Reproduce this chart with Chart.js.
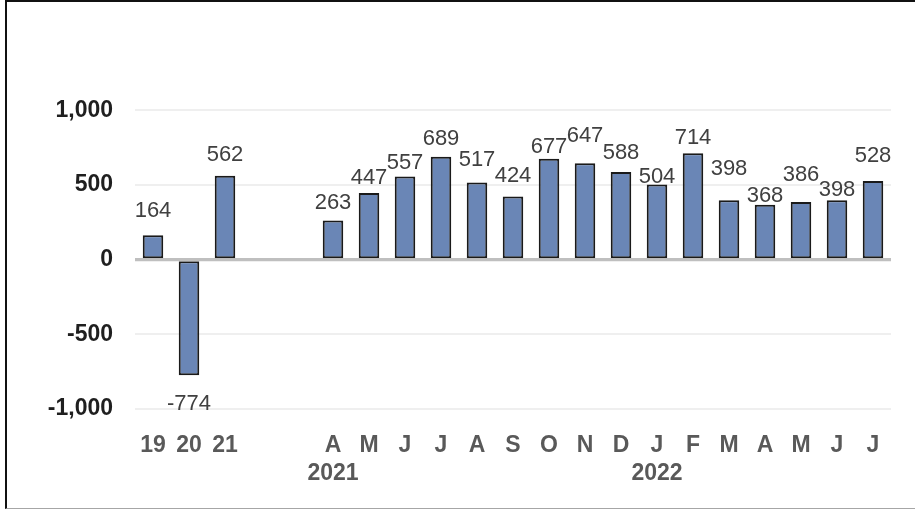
<!DOCTYPE html>
<html>
<head>
<meta charset="utf-8">
<script src="https://cdn.jsdelivr.net/npm/chart.js@4"></script>
<style>
  html, body { margin: 0; padding: 0; background: #fff; }
  #wrap { position: relative; width: 915px; height: 510px; }
  #frame {
    position: absolute; left: 5px; top: 0; width: 910px; height: 509px;
    border-top: 2px solid #111; border-left: 2px solid #111; border-bottom: 1px solid #a6a6a6;
    box-sizing: border-box;
  }
  #myChart { position: absolute; left: 0; top: 0; }
</style>
</head>
<body>
<div id="wrap">
  <div id="frame"></div>
  <canvas id="myChart" width="915" height="510"></canvas>
</div>
<script>
// categories: three annual values, a gap, then months Apr 2021 - Jul 2022
var categories = ['19', '20', '21', '', '',
    ['A', '2021'], 'M', 'J', 'J', 'A', 'S', 'O', 'N', 'D',
    ['J', '2022'], 'F', 'M', 'A', 'M', 'J', 'J'];
var values = [164, -774, 562, null, null,
    263, 447, 557, 689, 517, 424, 677, 647, 588,
    504, 714, 398, 368, 386, 398, 528];
var yTicks = [-1000, -500, 0, 500, 1000];

// how far each value label sits from its bar end (px)
var labelGap = [24, 29, 21, 0, 0, 18, 15, 14, 18, 23, 20, 12, 27, 19, 8, 15, 31, 9, 27, 10, 25];

var fontFamily = "'Liberation Sans', Arial, sans-serif";

var valueLabels = {
    id: 'valueLabels',
    afterDatasetsDraw: function (chart) {
        var ctx = chart.ctx;
        var area = chart.chartArea;
        var y0 = chart.scales.y.getPixelForValue(0);
        // zero line on top of the bars
        ctx.save();
        ctx.strokeStyle = '#bfbfbf';
        ctx.lineWidth = 3;
        ctx.beginPath();
        ctx.moveTo(area.left, y0);
        ctx.lineTo(area.right, y0);
        ctx.stroke();

        ctx.font = '22px ' + fontFamily;
        ctx.fillStyle = '#404040';
        ctx.textAlign = 'center';
        ctx.textBaseline = 'middle';
        var meta = chart.getDatasetMeta(0);
        meta.data.forEach(function (bar, i) {
            var v = values[i];
            if (v === null) return;
            var y = v >= 0 ? bar.y - labelGap[i] : bar.y + labelGap[i];
            ctx.fillText(String(v), bar.x, y);
        });
        ctx.restore();
    }
};

var ctx = document.getElementById('myChart').getContext('2d');
var chart = new Chart(ctx, {
    type: 'bar',
    data: {
        labels: categories,
        datasets: [{
            data: values,
            backgroundColor: '#6a86b6',
            borderColor: '#1a1a1a',
            borderWidth: 2,
            borderSkipped: false,
            categoryPercentage: 1,
            barPercentage: 0.57
        }]
    },
    options: {
        responsive: false,
        animation: false,
        devicePixelRatio: 1,
        layout: { padding: { top: 33, right: 24, bottom: 0, left: 0 } },
        plugins: {
            legend: { display: false },
            tooltip: { enabled: false }
        },
        scales: {
            x: {
                grid: { display: false },
                border: { display: false },
                ticks: {
                    autoSkip: false,
                    maxRotation: 0,
                    padding: 15,
                    color: '#595959',
                    font: { family: fontFamily, size: 23, weight: 'bold', lineHeight: 1.2 }
                },
                afterFit: function (scale) { scale.height = 101; }
            },
            y: {
                min: -1000,
                max: 1500,
                border: { display: false },
                grid: {
                    drawTicks: false,
                    color: function (c) {
                        if (c.tick.value === 0) return '#bfbfbf';
                        return yTicks.indexOf(c.tick.value) >= 0 ? '#efefef' : 'rgba(0,0,0,0)';
                    },
                    lineWidth: function (c) { return c.tick.value === 0 ? 3 : 2; }
                },
                ticks: {
                    stepSize: 500,
                    padding: 22,
                    color: '#1f1f1f',
                    font: { family: fontFamily, size: 23, weight: 'bold' },
                    callback: function (v) {
                        return yTicks.indexOf(v) >= 0 ? v.toLocaleString('en-US') : '';
                    }
                },
                afterFit: function (scale) { scale.width = 135; }
            }
        }
    },
    plugins: [valueLabels]
});
</script>
</body>
</html>
